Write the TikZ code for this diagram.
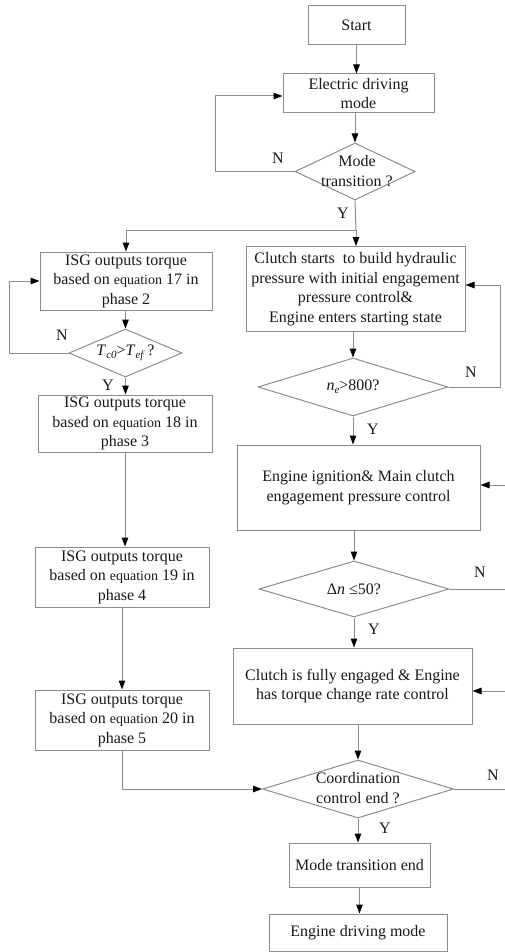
\documentclass[tikz,border=0pt]{standalone}
\usepackage{fontspec}
\setmainfont{Liberation Serif}
\usetikzlibrary{shapes.geometric,arrows.meta}
\definecolor{ln}{RGB}{140,140,140}
\definecolor{tx}{RGB}{25,25,25}
\newcommand{\eqsm}{{\fontsize{14}{19.5}\selectfont equation}}
\newcommand{\subsm}[1]{\raisebox{-3pt}{\fontsize{11}{11}\selectfont\itshape #1}}
\begin{document}
\begin{tikzpicture}[x=1pt,y=-1pt,
  font=\fontsize{16}{19.5}\selectfont, text=tx,
  box/.style={draw=ln, line width=1pt, rectangle, inner sep=0pt, align=center},
  dia/.style={draw=ln, line width=1pt, diamond, inner sep=0pt},
  lbl/.style={inner sep=0pt, align=center},
  ln/.style={draw=ln, line width=1pt},
  arr/.style={ln, -{Triangle[length=9pt,width=6.5pt,color=black]}}]
\useasboundingbox (0,0) rectangle (505,952);
% boxes
\node[box, minimum width=97pt, minimum height=39pt] (start) at (356.5,25.5) {Start};
\node[box, minimum width=151pt, minimum height=39pt] (elec) at (358.5,93.5) {Electric driving\\mode};
\node[dia, minimum width=120pt, minimum height=57pt] (d1) at (355,171.5) {};
\node[lbl] (d1t) at (357,171) {Mode\\transition ?};
\node[box, minimum width=172pt, minimum height=58pt] (isg17) at (126,281) {ISG outputs torque\\based on \eqsm{} 17 in\\phase 2};
\node[dia, minimum width=113pt, minimum height=48pt] (dT) at (125.5,353) {};
\node[lbl] (dTt) at (125.5,353) {\textit{T}\subsm{c0}>\textit{T}\subsm{ef} ?};
\node[box, minimum width=174pt, minimum height=57pt] (isg18) at (125,423.5) {ISG outputs torque\\based on \eqsm{} 18 in\\phase 3};
\node[box, minimum width=174pt, minimum height=60pt] (isg19) at (122,577) {ISG outputs torque\\based on \eqsm{} 19 in\\phase 4};
\node[box, minimum width=174pt, minimum height=60pt] (isg20) at (122,720) {ISG outputs torque\\based on \eqsm{} 20 in\\phase 5};
\node[box, minimum width=219pt, minimum height=85pt] (clutch) at (355.5,289) {Clutch starts\ \ to build hydraulic\\pressure with initial engagement\\pressure control\&\\Engine enters starting state};
\node[dia, minimum width=190pt, minimum height=58pt] (dn) at (353,387) {};
\node[lbl] (dnt) at (353,387) {\textit{n}\subsm{e}>800?};
\node[box, minimum width=243pt, minimum height=85pt] (ign) at (358.5,487.5) {Engine ignition\& Main clutch\\engagement pressure control};
\node[dia, minimum width=190pt, minimum height=56pt] (dd) at (354,589) {};
\node[lbl] (ddt) at (354,589) {Δ\textit{n} ≤50?};
\node[box, minimum width=239pt, minimum height=76pt] (full) at (352.5,686) {Clutch is fully engaged \& Engine\\has torque change rate control};
\node[dia, minimum width=191pt, minimum height=58pt] (dc) at (358,789) {};
\node[lbl] (dct) at (358,788) {Coordination\\control end ?};
\node[box, minimum width=141pt, minimum height=44pt] (mte) at (359.5,865) {Mode transition end};
\node[box, minimum width=178pt, minimum height=37.5pt] (edm) at (358,932.75) {Engine driving mode};
% coordinates
\coordinate (sp) at (356,230);
\coordinate (r1) at (505,485);
\coordinate (r2) at (505,589);
\coordinate (r3) at (505,691);
\coordinate (r4) at (505,789);
% connectors
\draw[arr] (start.south) -- (start.south |- elec.north);
\draw[arr] (elec.south -| d1.north) -- (d1.north);
\draw[arr] (d1.west) -- ++(-79,0) |- ([yshift=-2.5pt]elec.west);
\draw[ln] (d1.south) -- (sp);
\draw[arr] (sp) -| (isg17.north);
\draw[arr] (sp) -- (sp |- clutch.north);
\draw[arr] (isg17.south -| dT.north) -- (dT.north);
\draw[arr] (dT.west) -- ++(-59,0) |- (isg17.west);
\draw[arr] (dT.south) -- (dT.south |- isg18.north);
\draw[arr] (isg18.south) -- (isg18.south |- isg19.north);
\draw[arr] (isg19.south) -- (isg20.north);
\draw[arr] (isg20.south) |- (dc.west);
\draw[arr] (clutch.south -| dn.north) -- (dn.north);
\draw[arr] (dn.east) -- ++(52,0) |- ([yshift=4pt]clutch.east);
\draw[arr] (dn.south) -- (dn.south |- ign.north);
\draw[arr] (r1) -- (r1 -| ign.east);
\draw[arr] (ign.south -| dd.north) -- (dd.north);
\draw[ln] (dd.east) -- (r2);
\draw[arr] (dd.south) -- (dd.south |- full.north);
\draw[arr] (r3) -- (r3 -| full.east);
\draw[arr] (full.south -| dc.north) -- (dc.north);
\draw[ln] (dc.east) -- (r4);
\draw[arr] (dc.south) -- (dc.south |- mte.north);
\draw[arr] (mte.south) -- (mte.south |- edm.north);
% labels
\node[lbl] (n1) at (278,158) {N};
\node[lbl] (y1) at (343,213) {Y};
\node[lbl] (n2) at (62,335) {N};
\node[lbl] (y2) at (108,385) {Y};
\node[lbl] (n3) at (471,372) {N};
\node[lbl] (y3) at (373,429) {Y};
\node[lbl] (n4) at (480,572) {N};
\node[lbl] (y4) at (374,629) {Y};
\node[lbl] (n5) at (493,775) {N};
\node[lbl] (y5) at (385,828) {Y};
\end{tikzpicture}
\end{document}
